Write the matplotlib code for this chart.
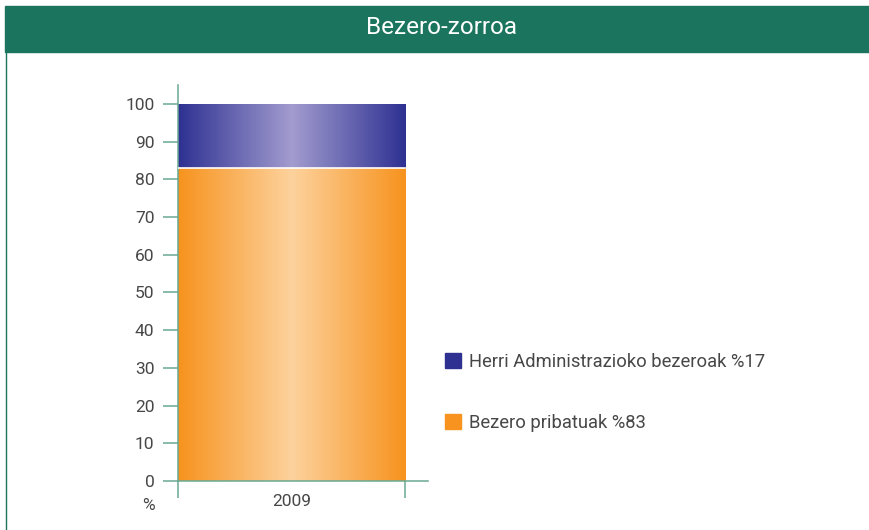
import matplotlib
matplotlib.use("Agg")
import matplotlib.pyplot as plt
import numpy as np
from matplotlib.colors import to_rgb
from matplotlib.patches import Patch, Rectangle

plt.rcParams["font.family"] = ["Roboto", "DejaVu Sans"]

TITLE = "Bezero-zorroa"
YEARS = ["2009"]
PRIVATE = [83]
PUBLIC = [17]
LABELS = ["Herri Administrazioko bezeroak %17", "Bezero pribatuak %83"]
YTICKS = list(range(0, 101, 10))

GREEN = "#1b755e"
AXIS = "#6aa892"
TEXT = "#474747"
ORANGE_EDGE, ORANGE_MID = "#f7931e", "#fdd29d"
BLUE_EDGE, BLUE_MID = "#2e3192", "#a29ccf"


def gradient_fill(ax, patch, edge, mid):
    # horizontal gradient edge -> mid -> edge, clipped to the bar
    t = np.abs(np.linspace(-1, 1, 256))[None, :, None]
    img = np.array(to_rgb(mid)) * (1 - t) + np.array(to_rgb(edge)) * t
    x0, y0 = patch.get_x(), patch.get_y()
    w, h = patch.get_width(), patch.get_height()
    im = ax.imshow(img, extent=(x0, x0 + w, y0, y0 + h), aspect="auto",
                   interpolation="bilinear", zorder=2)
    im.set_clip_path(patch)
    patch.set_facecolor("none")


fig = plt.figure(figsize=(8.69, 5.30), dpi=100)
W, H = 869, 530

# header band + left frame line
fig.patches.append(Rectangle((5 / W, 1 - 52 / H), 1, 46 / H, transform=fig.transFigure,
                             color=GREEN, zorder=0))
fig.lines.append(plt.Line2D([5.5 / W, 5.5 / W], [0, 1 - 52 / H], transform=fig.transFigure,
                            color=GREEN, lw=1.0))
fig.text(441 / W, 1 - 27 / H, TITLE, color="white", fontsize=17.5, ha="center", va="center")

ax = fig.add_axes([178 / W, 49 / H, 250 / W, 396 / H])
x = np.arange(len(YEARS))
b1 = ax.bar(x, PRIVATE, width=1.0, edgecolor="none", zorder=2)
b2 = ax.bar(x, PUBLIC, bottom=PRIVATE, width=1.0, edgecolor="none", zorder=2)
for p in b1:
    gradient_fill(ax, p, ORANGE_EDGE, ORANGE_MID)
for p in b2:
    gradient_fill(ax, p, BLUE_EDGE, BLUE_MID)
for v in PRIVATE:
    ax.axhline(v, xmin=0, xmax=1 / 1.101, color="white", lw=1.2, zorder=3)

ax.set_xlim(-0.5, 0.601)
ax.set_ylim(0, 105)
ax.set_yticks(YTICKS)
ax.set_xticks(x)
ax.set_xticklabels(YEARS)
ax.set_xticks([-0.5, 0.5], minor=True)
ax.tick_params(axis="y", length=11, width=1.1, color=AXIS, labelcolor=TEXT,
               labelsize=12.5, pad=6)
ax.tick_params(axis="x", which="major", length=0, labelcolor=TEXT, labelsize=12.5, pad=9)
ax.tick_params(axis="x", which="minor", length=12, width=1.1, color=AXIS)
for s in ["top", "right"]:
    ax.spines[s].set_visible(False)
for s in ["left", "bottom"]:
    ax.spines[s].set_color(AXIS)
    ax.spines[s].set_linewidth(1.1)
ax.set_facecolor("none")

fig.text(148 / W, 1 - 506 / H, "%", color=TEXT, fontsize=12.5, ha="center", va="center")

handles = [Patch(color=BLUE_EDGE), Patch(color=ORANGE_EDGE)]
fig.legend(handles, LABELS, loc="upper left", bbox_to_anchor=(445 / W, 1 - 353 / H),
           frameon=False, fontsize=13.2, labelcolor=TEXT, borderpad=0, borderaxespad=0,
           handlelength=0.85, handleheight=0.85, handletextpad=0.45, labelspacing=2.35)

fig.savefig("out.png", dpi=100)
